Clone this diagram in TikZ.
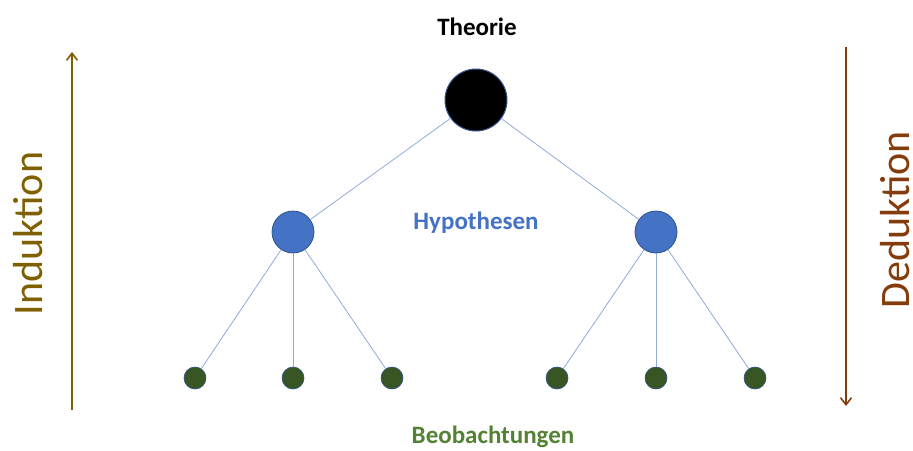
\documentclass[tikz,border=0pt]{standalone}
\usepackage{fontspec}
\setmainfont{Carlito}
\usetikzlibrary{arrows.meta}
\definecolor{hypblue}{HTML}{4472C4}
\definecolor{hypborder}{HTML}{2F528F}
\definecolor{leafgreen}{HTML}{375623}
\definecolor{leafborder}{HTML}{2F528F}
\definecolor{linkblue}{HTML}{8FAADC}
\definecolor{indcol}{HTML}{7F6000}
\definecolor{dedcol}{HTML}{843C0C}
\definecolor{obsgreen}{HTML}{548235}
\begin{document}
\begin{tikzpicture}[x=1pt,y=-1pt,
  theory/.style={circle,fill=black,draw=hypborder,line width=1pt,minimum size=62pt,inner sep=0pt},
  hyp/.style={circle,fill=hypblue,draw=hypborder,line width=0.8pt,minimum size=42pt,inner sep=0pt},
  leaf/.style={circle,fill=leafgreen,draw=leafborder,line width=0.6pt,minimum size=22pt,inner sep=0pt},
  link/.style={draw=linkblue,line width=0.8pt},
  lbl/.style={font=\bfseries\fontsize{25}{30}\selectfont,anchor=base,inner sep=0pt},
  side/.style={font=\fontsize{42}{50}\selectfont,rotate=90,anchor=base,inner sep=0pt},
  sidearrow/.style={line width=1.6pt,-{Straight Barb[length=7pt,width=11pt]}}
]
\useasboundingbox (0,0) rectangle (913,450);
\node[theory] (T) at (476,100) {};
\node[hyp] (H1) at (293,232) {};
\node[hyp] (H2) at (656,232) {};
\node[leaf] (L1) at (195,378) {};
\node[leaf] (L2) at (293,378) {};
\node[leaf] (L3) at (392,378) {};
\node[leaf] (L4) at (557,378) {};
\node[leaf] (L5) at (656,378) {};
\node[leaf] (L6) at (755,378) {};
\draw[link] (T) -- (H1);
\draw[link] (T) -- (H2);
\foreach \l in {L1,L2,L3} \draw[link] (H1) -- (\l);
\foreach \l in {L4,L5,L6} \draw[link] (H2) -- (\l);
\node[lbl,text=black] (tlab) at (477,35) {Theorie};
\node[lbl,text=hypblue] (hlab) at (476,229) {Hypothesen};
\node[lbl,text=obsgreen] (olab) at (493,443) {Beobachtungen};
\coordinate (ia) at (72,410);
\coordinate (ib) at (72,52);
\coordinate (da) at (846,47);
\coordinate (db) at (846,406);
\draw[sidearrow,indcol] (ia) -- (ib);
\draw[sidearrow,dedcol] (da) -- (db);
\node[side,text=indcol] (ind) at (42,233.5) {Induktion};
\node[side,text=dedcol] (ded) at (909,220) {Deduktion};
\end{tikzpicture}
\end{document}
